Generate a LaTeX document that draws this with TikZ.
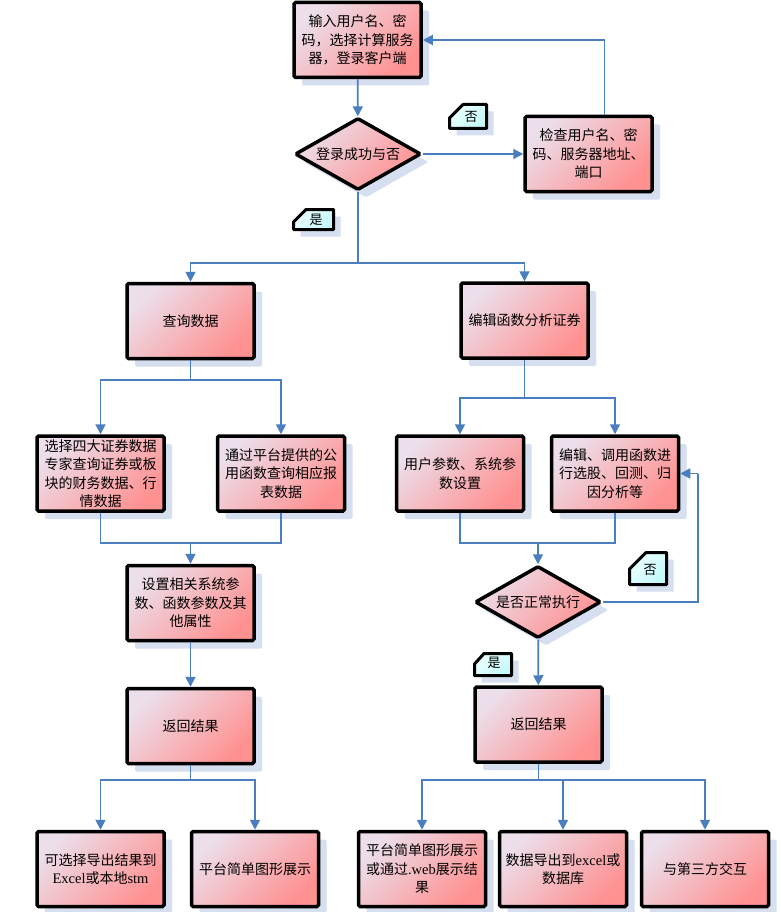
\documentclass[tikz,border=0pt]{standalone}
\usepackage{fontspec}
\setmainfont{Noto Sans CJK SC}
\newfontfamily\tms{Liberation Serif}
\usetikzlibrary{shapes.geometric,shadows,arrows.meta}
\definecolor{linkblue}{RGB}{74,126,191}
\definecolor{shadowblue}{RGB}{214,223,240}
\definecolor{boxlight}{RGB}{236,222,234}
\definecolor{boxpink}{RGB}{255,145,145}
\definecolor{notelight}{RGB}{236,255,255}
\definecolor{notecyan}{RGB}{196,248,250}
\tikzset{
	flowbox/.style={rectangle,draw=black,line width=3.5pt,rounded corners=1.5pt,
		top color=boxlight,bottom color=boxpink,shading angle=45,
		minimum width=127pt,minimum height=75pt,align=center,inner sep=2pt,
		font=\fontsize{14}{18.5}\selectfont,
		drop shadow={shadow xshift=8pt,shadow yshift=-8pt,fill=shadowblue,opacity=1}},
	decision/.style={flowbox,diamond,shape aspect=1.7,minimum width=126pt,minimum height=72pt,inner sep=0pt},
	tagline/.style={draw=black,line width=3pt,line join=round,top color=notelight,bottom color=notecyan,shading angle=45,
		drop shadow={shadow xshift=7pt,shadow yshift=-7pt,fill=shadowblue,opacity=1}},
	tagtext/.style={inner sep=0pt,font=\fontsize{13}{14}\selectfont},
	link/.style={draw=linkblue,line width=1.8pt},
	arr/.style={link,-{Triangle[width=10pt,length=10pt]}}
}
\begin{document}
\begin{tikzpicture}[x=1pt,y=-1pt]
		\useasboundingbox[fill=white] (0,0) rectangle (780,912);
		\node[flowbox] (login) at (357.5,40) {输入用户名、密\\码，选择计算服务\\器，登录客户端};
		\node[decision] (okq) at (358,154) {登录成功与否};
		\node[flowbox] (check) at (588.5,154) {检查用户名、密\\码、服务器地址、\\端口};
		\draw[tagline] (449.5,118) -- (463,104.5) -- (486.5,104.5) -- (486.5,128.5) -- (449.5,128.5) -- cycle;
		\node[tagtext] (nono) at (471,116.5) {否};
		\draw[tagline] (293.5,222) -- (306,209.5) -- (333.5,209.5) -- (333.5,229.5) -- (293.5,229.5) -- cycle;
		\node[tagtext] (yesa) at (316,219.5) {是};
		\node[flowbox] (query) at (190.5,321) {查询数据};
		\node[flowbox] (edit) at (524.5,320.5) {编辑函数分析证券};
		\node[flowbox] (pick) at (100.5,473.5) {选择四大证券数据\\专家查询证券或板\\块的财务数据、行\\情数据};
		\node[flowbox] (pubfn) at (281,473.5) {通过平台提供的公\\用函数查询相应报\\表数据};
		\node[flowbox] (setup) at (190.5,603) {设置相关系统参\\数、函数参数及其\\他属性};
		\node[flowbox] (resl) at (190.5,726) {返回结果};
		\node[flowbox] (export) at (100.5,869) {可选择导出结果到\\{\tms\fontsize{14.5}{18.5}\selectfont Excel}或本地{\tms\fontsize{14.5}{18.5}\selectfont stm}};
		\node[flowbox] (showl) at (255,869) {平台简单图形展示};
		\node[flowbox] (param) at (460,473.5) {用户参数、系统参\\数设置};
		\node[flowbox] (callfn) at (615,473.5) {编辑、调用函数进\\行选股、回测、归\\因分析等};
		\node[decision] (runq) at (538,602) {是否正常执行};
		\draw[tagline] (629.5,569) -- (646,552.5) -- (666.5,552.5) -- (666.5,584.5) -- (629.5,584.5) -- cycle;
		\node[tagtext] (nonob) at (650,569.5) {否};
		\draw[tagline] (474.5,664) -- (484,653.5) -- (511.5,653.5) -- (511.5,675.5) -- (474.5,675.5) -- cycle;
		\node[tagtext] (yesb) at (494,663) {是};
		\node[flowbox] (resr) at (538.5,724.5) {返回结果};
		\node[flowbox] (showr) at (422,869) {平台简单图形展示\\或通过{\tms\fontsize{14.5}{18.5}\selectfont .web}展示结\\果};
		\node[flowbox] (todb) at (563,869) {数据导出到{\tms\fontsize{14.5}{18.5}\selectfont excel}或\\数据库};
		\node[flowbox] (third) at (705,869) {与第三方交互};
		\coordinate (spA) at (358,263);
		\coordinate (spB) at (190.5,380);
		\coordinate (spC) at (190.5,543);
		\coordinate (spD) at (190.5,780);
		\coordinate (spE) at (524.5,398);
		\coordinate (spF) at (538,543);
		\coordinate (spG) at (538.5,780);
		\coordinate (back) at (698,473.5);
		\draw[arr] (login) -- (okq);
		\draw[arr] (okq) -- (check);
		\draw[arr] ([xshift=16pt]check.north) |- (login.east);
		\draw[link] (okq) -- (spA);
		\draw[arr] (spA) -| (query.north);
		\draw[arr] (spA) -| (edit.north);
		\draw[link] (query) -- (spB);
		\draw[arr] (spB) -| (pick.north);
		\draw[arr] (spB) -| (pubfn.north);
		\draw[link] (pick.south) |- (spC) -| (pubfn.south);
		\draw[arr] (spC) -- (setup);
		\draw[arr] (setup) -- (resl);
		\draw[link] (resl) -- (spD);
		\draw[arr] (spD) -| (export.north);
		\draw[arr] (spD) -| (showl.north);
		\draw[link] (edit) -- (spE);
		\draw[arr] (spE) -| (param.north);
		\draw[arr] (spE) -| (callfn.north);
		\draw[link] (param.south) |- (spF) -| (callfn.south);
		\draw[arr] (spF) -- (runq);
		\draw[link] (runq.east) -| (back);
		\draw[arr] (back) -- (callfn.east);
		\draw[arr] (runq) -- (resr);
		\draw[link] (resr) -- (spG);
		\draw[arr] (spG) -| (showr.north);
		\draw[arr] (spG) -| (todb.north);
		\draw[arr] (spG) -| (third.north);
\end{tikzpicture}
\end{document}
